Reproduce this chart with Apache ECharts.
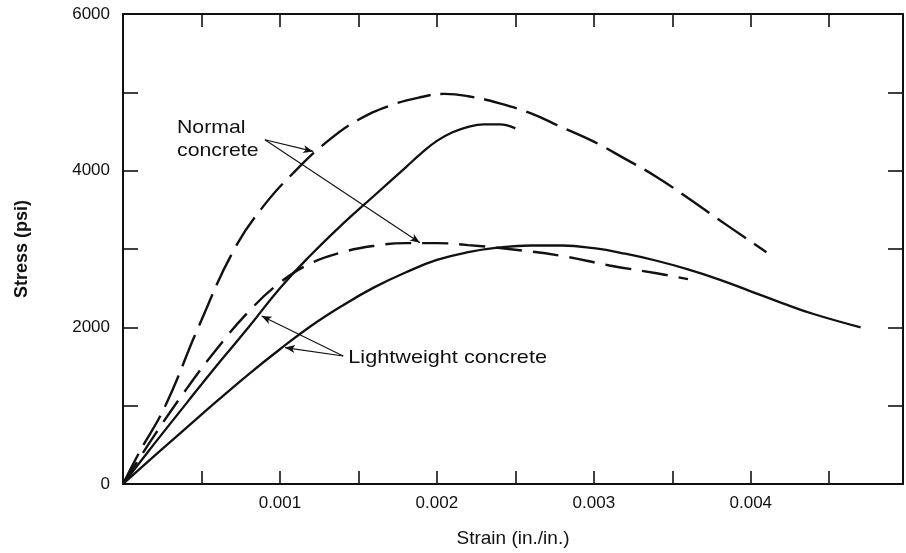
<!DOCTYPE html>
<html>
<head>
<meta charset="utf-8">
<script src="https://cdn.jsdelivr.net/npm/echarts@6/dist/echarts.min.js"></script>
<style>
  html, body { margin: 0; padding: 0; background: #ffffff; }
  #chart { width: 906px; height: 553px; }
</style>
</head>
<body>
<div id="chart"></div>
<script>
// Stress-strain curves of normal-weight and lightweight concrete

// Normal concrete, higher strength (dashed)
const normalHighStrain = [0, 0.0001, 0.00027, 0.00048, 0.00071, 0.0009, 0.0011, 0.0013, 0.0015, 0.0017, 0.0019, 0.00205, 0.0022, 0.0024, 0.0026, 0.0028, 0.003, 0.0032, 0.0034, 0.0036, 0.0038, 0.0041];
const normalHighStress = [0, 390, 1000, 2000, 3000, 3560, 4000, 4370, 4650, 4830, 4940, 4980, 4950, 4860, 4730, 4550, 4370, 4150, 3920, 3650, 3370, 2960];

// Normal concrete, lower strength (dashed)
const normalLowStrain = [0, 0.0002, 0.0004, 0.0006, 0.0008, 0.001, 0.0012, 0.0014, 0.0016, 0.0018, 0.002, 0.0022, 0.0025, 0.0028, 0.0031, 0.0034, 0.0036];
const normalLowStress = [0, 620, 1200, 1730, 2200, 2570, 2820, 2960, 3040, 3075, 3075, 3050, 2990, 2910, 2790, 2690, 2615];

// Lightweight concrete, higher strength (solid)
const lightHighStrain = [0, 0.0002, 0.0004, 0.0006, 0.0008, 0.001, 0.0012, 0.0014, 0.0016, 0.0018, 0.0019, 0.002, 0.0021, 0.0022, 0.0023, 0.0024, 0.0025];
const lightHighStress = [0, 515, 1020, 1520, 2000, 2500, 2930, 3320, 3680, 4040, 4220, 4380, 4490, 4560, 4590, 4590, 4540];

// Lightweight concrete, lower strength (solid)
const lightLowStrain = [0, 0.0002, 0.0004, 0.0006, 0.0008, 0.001, 0.0012, 0.0014, 0.0016, 0.0018, 0.002, 0.0022, 0.0024, 0.0026, 0.0028, 0.003, 0.0032, 0.0034, 0.0036, 0.0038, 0.004, 0.0042, 0.0044, 0.0047];
const lightLowStress = [0, 360, 710, 1060, 1400, 1720, 2020, 2280, 2510, 2700, 2860, 2960, 3020, 3045, 3045, 3010, 2940, 2850, 2740, 2610, 2460, 2310, 2170, 2000];

// Axis tick labels
const strainTickLabels = ['0.001', '0.002', '0.003', '0.004'];
const stressTickLabels = ['0', '2000', '4000', '6000'];

// Leader lines of the callouts, [from, to] in (strain, stress)
const normalLeaders = [
  [[0.000904, 4395], [0.001212, 4246]],
  [[0.000904, 4395], [0.001892, 3079]]
];
const lightLeaders = [
  [[0.001403, 1634], [0.000883, 2144]],
  [[0.001403, 1634], [0.001032, 1741]]
];

const FONT = "'Liberation Sans', Arial, Helvetica, sans-serif";
const INK = '#111111';

function pairs(xs, ys) {
  return xs.map((x, i) => [x, ys[i]]);
}

function leaderLines(list) {
  return {
    silent: true,
    animation: false,
    symbol: ['none', 'arrow'],
    symbolSize: [6, 10],
    label: { show: false },
    emphasis: { disabled: true },
    lineStyle: { color: INK, width: 1.1, type: 'solid' },
    data: list.map(seg => [{ coord: seg[0] }, { coord: seg[1] }])
  };
}

function curve(name, xs, ys, dash, width, leaders) {
  const s = {
    name: name,
    type: 'line',
    data: pairs(xs, ys),
    showSymbol: false,
    smooth: 0.45,
    silent: true,
    lineStyle: { color: INK, width: width, type: dash, cap: 'butt' },
    z: 3
  };
  if (leaders) s.markLine = leaderLines(leaders);
  return s;
}

const strainFormatter = v => {
  const n = Math.round(v * 1000);
  if (Math.abs(v * 1000 - n) > 1e-6) return '';
  const t = (n / 1000).toFixed(3);
  return strainTickLabels.indexOf(t) >= 0 ? t : '';
};
const stressFormatter = v => {
  const t = String(Math.round(v));
  return stressTickLabels.indexOf(t) >= 0 ? t : '';
};

const frameLine = { show: true, onZero: false, lineStyle: { color: INK, width: 2 } };

const chart = echarts.init(document.getElementById('chart'), null, { renderer: 'canvas' });

chart.setOption({
  animation: false,
  backgroundColor: '#ffffff',
  grid: { left: 123, right: 3, top: 14, bottom: 68, containLabel: false },
  xAxis: [
    {
      type: 'value', position: 'bottom', min: 0, max: 0.00497, interval: 0.0005,
      axisLine: frameLine,
      axisTick: { show: true, inside: true, length: 13, lineStyle: { color: INK, width: 1.6 } },
      splitLine: { show: false },
      axisLabel: { show: true, margin: 11, color: INK, fontFamily: FONT, fontSize: 17, formatter: strainFormatter, showMinLabel: false, showMaxLabel: false },
      name: 'Strain (in./in.)', nameLocation: 'middle', nameGap: 45,
      nameTextStyle: { color: INK, fontFamily: FONT, fontSize: 19 }
    },
    {
      type: 'value', position: 'top', min: 0, max: 0.00497, interval: 0.0005,
      axisLine: frameLine,
      axisTick: { show: true, inside: true, length: 13, lineStyle: { color: INK, width: 1.6 } },
      splitLine: { show: false },
      axisLabel: { show: false }
    }
  ],
  yAxis: [
    {
      type: 'value', position: 'left', min: 0, max: 6000, interval: 1000,
      axisLine: frameLine,
      axisTick: { show: true, inside: true, length: 15, lineStyle: { color: INK, width: 1.6 } },
      splitLine: { show: false },
      axisLabel: { show: true, margin: 13, color: INK, fontFamily: FONT, fontSize: 17, formatter: stressFormatter },
      name: 'Stress (psi)', nameLocation: 'middle', nameGap: 92, nameRotate: 90,
      nameTextStyle: { color: INK, fontFamily: FONT, fontSize: 18, fontWeight: 'bold' }
    },
    {
      type: 'value', position: 'right', min: 0, max: 6000, interval: 1000,
      axisLine: frameLine,
      axisTick: { show: true, inside: true, length: 15, lineStyle: { color: INK, width: 1.6 } },
      splitLine: { show: false },
      axisLabel: { show: false }
    }
  ],
  series: [
    curve('Normal concrete (high)', normalHighStrain, normalHighStress, [34, 10], 2.4, normalLeaders),
    curve('Normal concrete (low)', normalLowStrain, normalLowStress, [26, 11], 2.4, null),
    curve('Lightweight concrete (high)', lightHighStrain, lightHighStress, 'solid', 2.3, lightLeaders),
    curve('Lightweight concrete (low)', lightLowStrain, lightLowStress, 'solid', 2.3, null)
  ],
  graphic: [
    {
      type: 'text', x: 177, y: 116.3, scaleX: 1.12, silent: true,
      style: { text: 'Normal\nconcrete', fill: INK, font: '19px ' + FONT, lineHeight: 22.7, verticalAlign: 'top', align: 'left' }
    },
    {
      type: 'text', x: 348.3, y: 357.6, scaleX: 1.14, silent: true,
      style: { text: 'Lightweight concrete', fill: INK, font: '19px ' + FONT, verticalAlign: 'middle', align: 'left' }
    }
  ]
});
</script>
</body>
</html>
